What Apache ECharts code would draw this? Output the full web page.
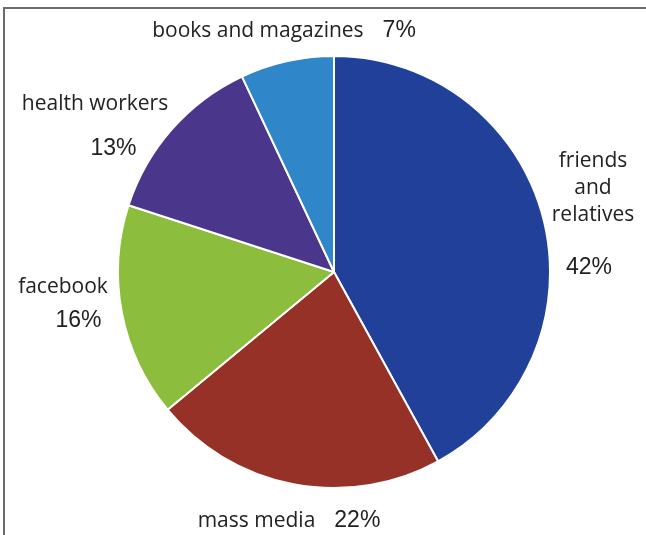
<!DOCTYPE html>
<html>
<head>
<meta charset="utf-8">
<script src="https://cdn.jsdelivr.net/npm/echarts@6/dist/echarts.min.js"></script>
<style>html,body{margin:0;padding:0;background:#fff}#c{width:646px;height:535px}</style>
</head>
<body>
<div id="c"></div>
<script>
const categories = ['friends and relatives', 'mass media', 'facebook', 'health workers', 'books and magazines'];
const values = [42, 22, 16, 13, 7];
const labelLines = [['friends', 'and', 'relatives'], ['mass media'], ['facebook'], ['health workers'], ['books and magazines']];
const colors = ['#21409a', '#963128', '#8dbd3d', '#4a378c', '#2f86c8'];

// label anchor positions (centers) – layout only
const labelPos = [[593, 227], [289, 521], [63, 307], [95, 135], [284, 31]];

const chart = echarts.init(document.getElementById('c'), null, {renderer: 'canvas'});
const nameFont = 'Open Sans';
const pctFont = 'Liberation Sans';

function fmt(p) {
  const i = p.dataIndex;
  const lines = labelLines[i];
  const pct = p.value + '%';
  if (i === 0) return lines.map(l => '{n|' + l + '}').join('\n') + '\n{p0|' + pct + '}';
  if (i === 3) return '{n|' + lines[0] + '}\n{p3|' + pct + '}';
  if (i === 2) return '{n|' + lines[0] + '}\n{p2|' + pct + '}';
  return '{n|' + lines[0] + '}{pi|' + pct + '}';
}

chart.setOption({
  animation: false,
  graphic: [{
    type: 'rect', shape: {x: 4, y: 8, width: 700, height: 600},
    style: {fill: 'none', stroke: '#6b6b6b', lineWidth: 2}, silent: true
  }],
  series: [{
    type: 'pie',
    center: [334, 272],
    radius: 216,
    startAngle: 90,
    clockwise: true,
    data: categories.map((c, i) => ({name: c, value: values[i], itemStyle: {color: colors[i]}})),
    itemStyle: {borderColor: '#ffffff', borderWidth: 2},
    label: {
      show: true,
      position: 'outside',
      formatter: fmt,
      align: 'center',
      overflow: 'none',
      width: null,
      rich: {
        n: {fontFamily: nameFont, fontSize: 21, color: '#222', lineHeight: 27, align: 'center'},
        p0: {fontFamily: pctFont, fontSize: 23, color: '#222', lineHeight: 77, align: 'center', padding: [0, 8, 0, 0]},
        p3: {fontFamily: pctFont, fontSize: 23, color: '#222', lineHeight: 61, padding: [0, 0, 0, 37], align: 'center'},
        p2: {fontFamily: pctFont, fontSize: 23, color: '#222', lineHeight: 39, padding: [0, 0, 0, 31], align: 'center'},
        pi: {fontFamily: pctFont, fontSize: 23, color: '#222', lineHeight: 27, padding: [0, 0, 0, 19]}
      }
    },
    labelLine: {show: false},
    labelLayout: function (params) {
      const pos = labelPos[params.dataIndex];
      return {x: pos[0], y: pos[1], align: 'center', verticalAlign: 'middle'};
    },
    emphasis: {disabled: true}
  }]
});
</script>
</body>
</html>
